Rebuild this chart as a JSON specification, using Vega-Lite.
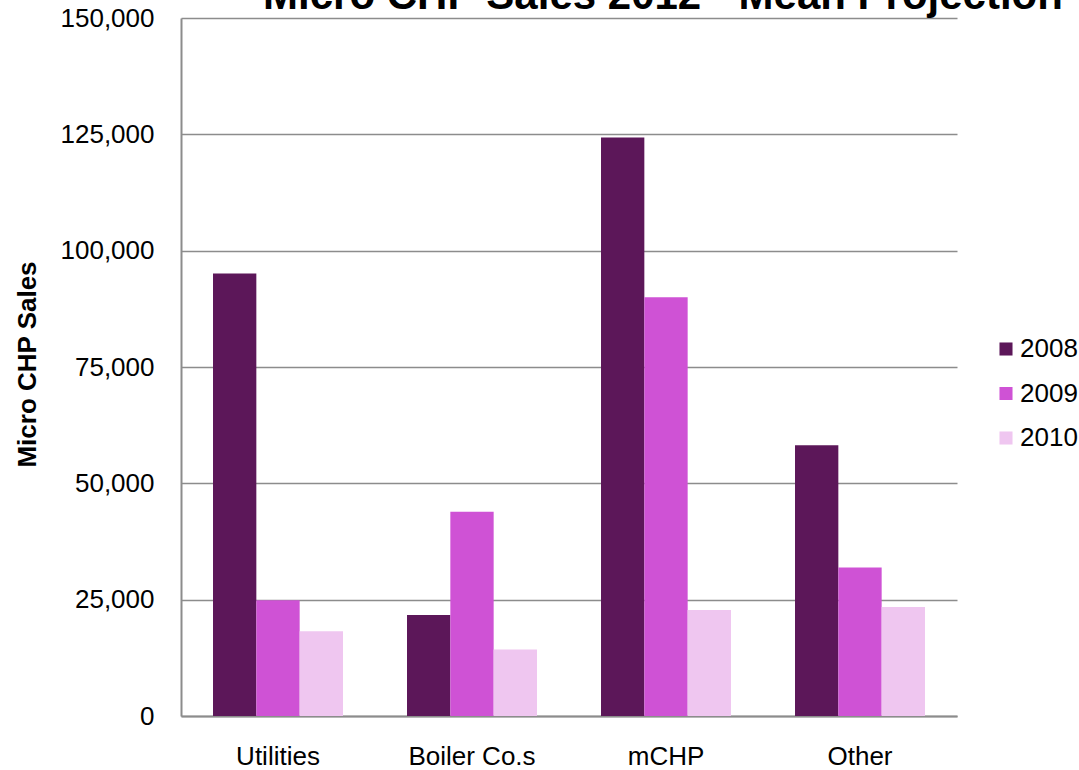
{
  "$schema": "https://vega.github.io/schema/vega-lite/v6.json",
  "width": 776,
  "height": 698,
  "autosize": {"type": "none"},
  "padding": {"left": 181, "top": 18, "right": 122, "bottom": 54},
  "background": "white",
  "title": {
    "text": "Micro CHP Sales 2012 - Mean Projection",
    "font": "Liberation Sans",
    "fontSize": 42,
    "fontWeight": "bold",
    "color": "black",
    "anchor": "middle",
    "frame": "group",
    "baseline": "alphabetic",
    "offset": 0,
    "dx": 94,
    "dy": 46
  },
  "data": {
    "values": [
      {"category": "Utilities", "year": "2008", "sales": 95100},
      {"category": "Utilities", "year": "2009", "sales": 24900},
      {"category": "Utilities", "year": "2010", "sales": 18200},
      {"category": "Boiler Co.s", "year": "2008", "sales": 21700},
      {"category": "Boiler Co.s", "year": "2009", "sales": 43900},
      {"category": "Boiler Co.s", "year": "2010", "sales": 14300},
      {"category": "mCHP", "year": "2008", "sales": 124300},
      {"category": "mCHP", "year": "2009", "sales": 90000},
      {"category": "mCHP", "year": "2010", "sales": 22800},
      {"category": "Other", "year": "2008", "sales": 58200},
      {"category": "Other", "year": "2009", "sales": 31900},
      {"category": "Other", "year": "2010", "sales": 23400}
    ]
  },
  "mark": {"type": "bar"},
  "encoding": {
    "x": {
      "field": "category",
      "type": "nominal",
      "sort": ["Utilities", "Boiler Co.s", "mCHP", "Other"],
      "scale": {"paddingInner": 0.33, "paddingOuter": 0.165},
      "axis": {
        "title": null,
        "labelAngle": 0,
        "labelFont": "Liberation Sans",
        "labelFontSize": 26,
        "labelColor": "black",
        "labelPadding": 27,
        "ticks": false,
        "domainColor": "#8c8c8c",
        "domainWidth": 2
      }
    },
    "xOffset": {"field": "year", "type": "nominal"},
    "y": {
      "field": "sales",
      "type": "quantitative",
      "scale": {"domain": [0, 150000], "nice": false},
      "axis": {
        "title": "Micro CHP Sales",
        "titleFont": "Liberation Sans",
        "titleFontSize": 26,
        "titleFontWeight": "bold",
        "titleColor": "black",
        "titleX": -154,
        "titleY": 346,
        "titleAngle": -90,
        "titleBaseline": "middle",
        "titleAlign": "center",
        "values": [0, 25000, 50000, 75000, 100000, 125000, 150000],
        "format": ",.0f",
        "labelFont": "Liberation Sans",
        "labelFontSize": 26,
        "labelColor": "black",
        "labelPadding": 27,
        "ticks": false,
        "domainColor": "#8c8c8c",
        "domainWidth": 2,
        "gridColor": "#8c8c8c",
        "gridWidth": 1.5
      }
    },
    "color": {
      "field": "year",
      "type": "nominal",
      "scale": {"domain": ["2008", "2009", "2010"], "range": ["#5c1759", "#cf52d5", "#efc6f0"]},
      "legend": {
        "title": null,
        "orient": "none",
        "legendX": 812,
        "legendY": 318,
        "symbolType": "square",
        "symbolSize": 170,
        "symbolStrokeWidth": 0,
        "labelFont": "Liberation Sans",
        "labelFontSize": 26,
        "labelColor": "black",
        "labelOffset": 1,
        "rowPadding": 18.5
      }
    }
  },
  "config": {"view": {"stroke": null}}
}
